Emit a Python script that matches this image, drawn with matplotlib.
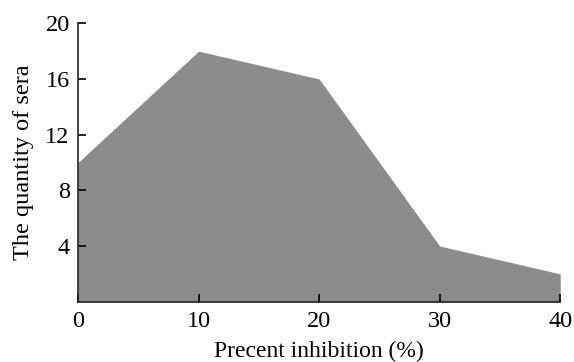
import matplotlib
matplotlib.use("Agg")
import matplotlib.pyplot as plt

# data
inhibition = [0, 10, 20, 30, 40]
sera = [10, 18, 16, 4, 2]
y_ticks = [4, 8, 12, 16, 20]
x_ticks = [0, 10, 20, 30, 40]

plt.rcParams['font.family'] = ['Liberation Serif', 'DejaVu Serif']

fig = plt.figure(figsize=(5.74, 3.62), dpi=100)
ax = fig.add_axes([0.136, 0.1666, 0.84, 0.769])

ax.fill_between(inhibition, sera, 0, color='#8c8c8c', linewidth=0)

ax.set_xlim(0, 40)
ax.set_ylim(0, 20)
ax.set_xticks(x_ticks)
ax.set_yticks(y_ticks)
ax.spines['top'].set_visible(False)
ax.spines['right'].set_visible(False)
for s in ['left', 'bottom']:
    ax.spines[s].set_linewidth(1.2)
    ax.spines[s].set_color('#222222')

ax.tick_params(axis='x', direction='in', length=6, width=1.2, labelsize=17.5, pad=7)
ax.tick_params(axis='y', direction='in', length=6, width=1.2, labelsize=17.5, pad=6)

ax.set_xlabel('Precent inhibition (%)', fontsize=17, labelpad=6)
ax.set_ylabel('The quantity of sera', fontsize=17.5, labelpad=8)

fig.savefig('out.png', dpi=100)
